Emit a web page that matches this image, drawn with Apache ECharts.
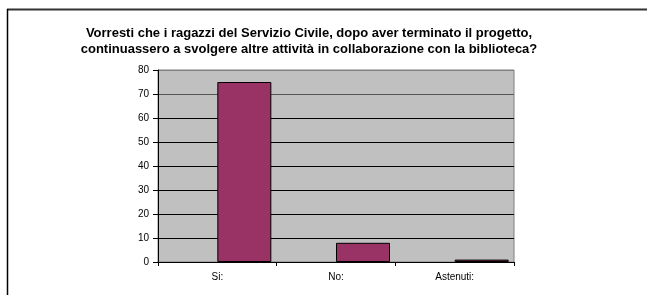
<!DOCTYPE html>
<html>
<head>
<meta charset="utf-8">
<script src="https://cdn.jsdelivr.net/npm/echarts@6/dist/echarts.min.js"></script>
<style>
  html, body { margin: 0; padding: 0; background: #fff; }
  #chart { width: 647px; height: 295px; }
</style>
</head>
<body>
<div id="chart"></div>
<script>
const titleText = 'Vorresti che i ragazzi del Servizio Civile, dopo aver terminato il progetto,\ncontinuassero a svolgere altre attività in collaborazione con la biblioteca?'
const categories = ['Si:', 'No:', 'Astenuti:']
// first series is empty in the original sheet, it only shifts the bars right
const emptyValues = [null, null, null]
const answerValues = [75, 8, 1]

const chart = echarts.init(document.getElementById('chart'))

const labelFont = {
  fontFamily: 'Arial, "Liberation Sans", sans-serif',
  fontSize: 10,
  color: '#000'
}

chart.setOption({
  animation: false,
  title: {
    text: titleText,
    left: 304,
    textAlign: 'center',
    top: 20,
    textStyle: {
      fontFamily: 'Arial, "Liberation Sans", sans-serif',
      fontSize: 13,
      fontWeight: 'bold',
      lineHeight: 16,
      color: '#000'
    }
  },
  graphic: [
    { type: 'line', shape: { x1: 7, y1: 9.5, x2: 647, y2: 9.5 }, style: { stroke: '#333', lineWidth: 2 } },
    { type: 'line', shape: { x1: 7.5, y1: 9, x2: 7.5, y2: 295 }, style: { stroke: '#000', lineWidth: 1.5 } }
  ],
  grid: {
    left: 158,
    right: 133,
    top: 70,
    bottom: 33,
    show: true,
    backgroundColor: '#c0c0c0',
    borderColor: '#808080',
    borderWidth: 1
  },
  xAxis: {
    type: 'category',
    data: categories,
    axisLine: { show: true, lineStyle: { color: '#000', width: 1 } },
    axisTick: { show: true, length: 4, inside: false, lineStyle: { color: '#000' } },
    axisLabel: { ...labelFont, margin: 10 },
    splitLine: { show: false }
  },
  yAxis: {
    type: 'value',
    min: 0,
    max: 80,
    interval: 10,
    axisLine: { show: true, lineStyle: { color: '#000', width: 1 } },
    axisTick: { show: true, length: 5, lineStyle: { color: '#000' } },
    axisLabel: { ...labelFont, margin: 9 },
    splitLine: {
      show: true,
      lineStyle: {
        color: ['#000', '#000', '#000', '#000', '#000', '#000', '#000', '#555', '#808080'],
        width: 1
      }
    }
  },
  series: [
    {
      type: 'bar',
      data: emptyValues,
      barWidth: 54,
      barGap: '0%'
    },
    {
      type: 'bar',
      data: answerValues,
      barWidth: 54,
      barGap: '0%',
      itemStyle: {
        color: '#993366',
        borderColor: '#000',
        borderWidth: 1
      }
    }
  ]
})
</script>
</body>
</html>
